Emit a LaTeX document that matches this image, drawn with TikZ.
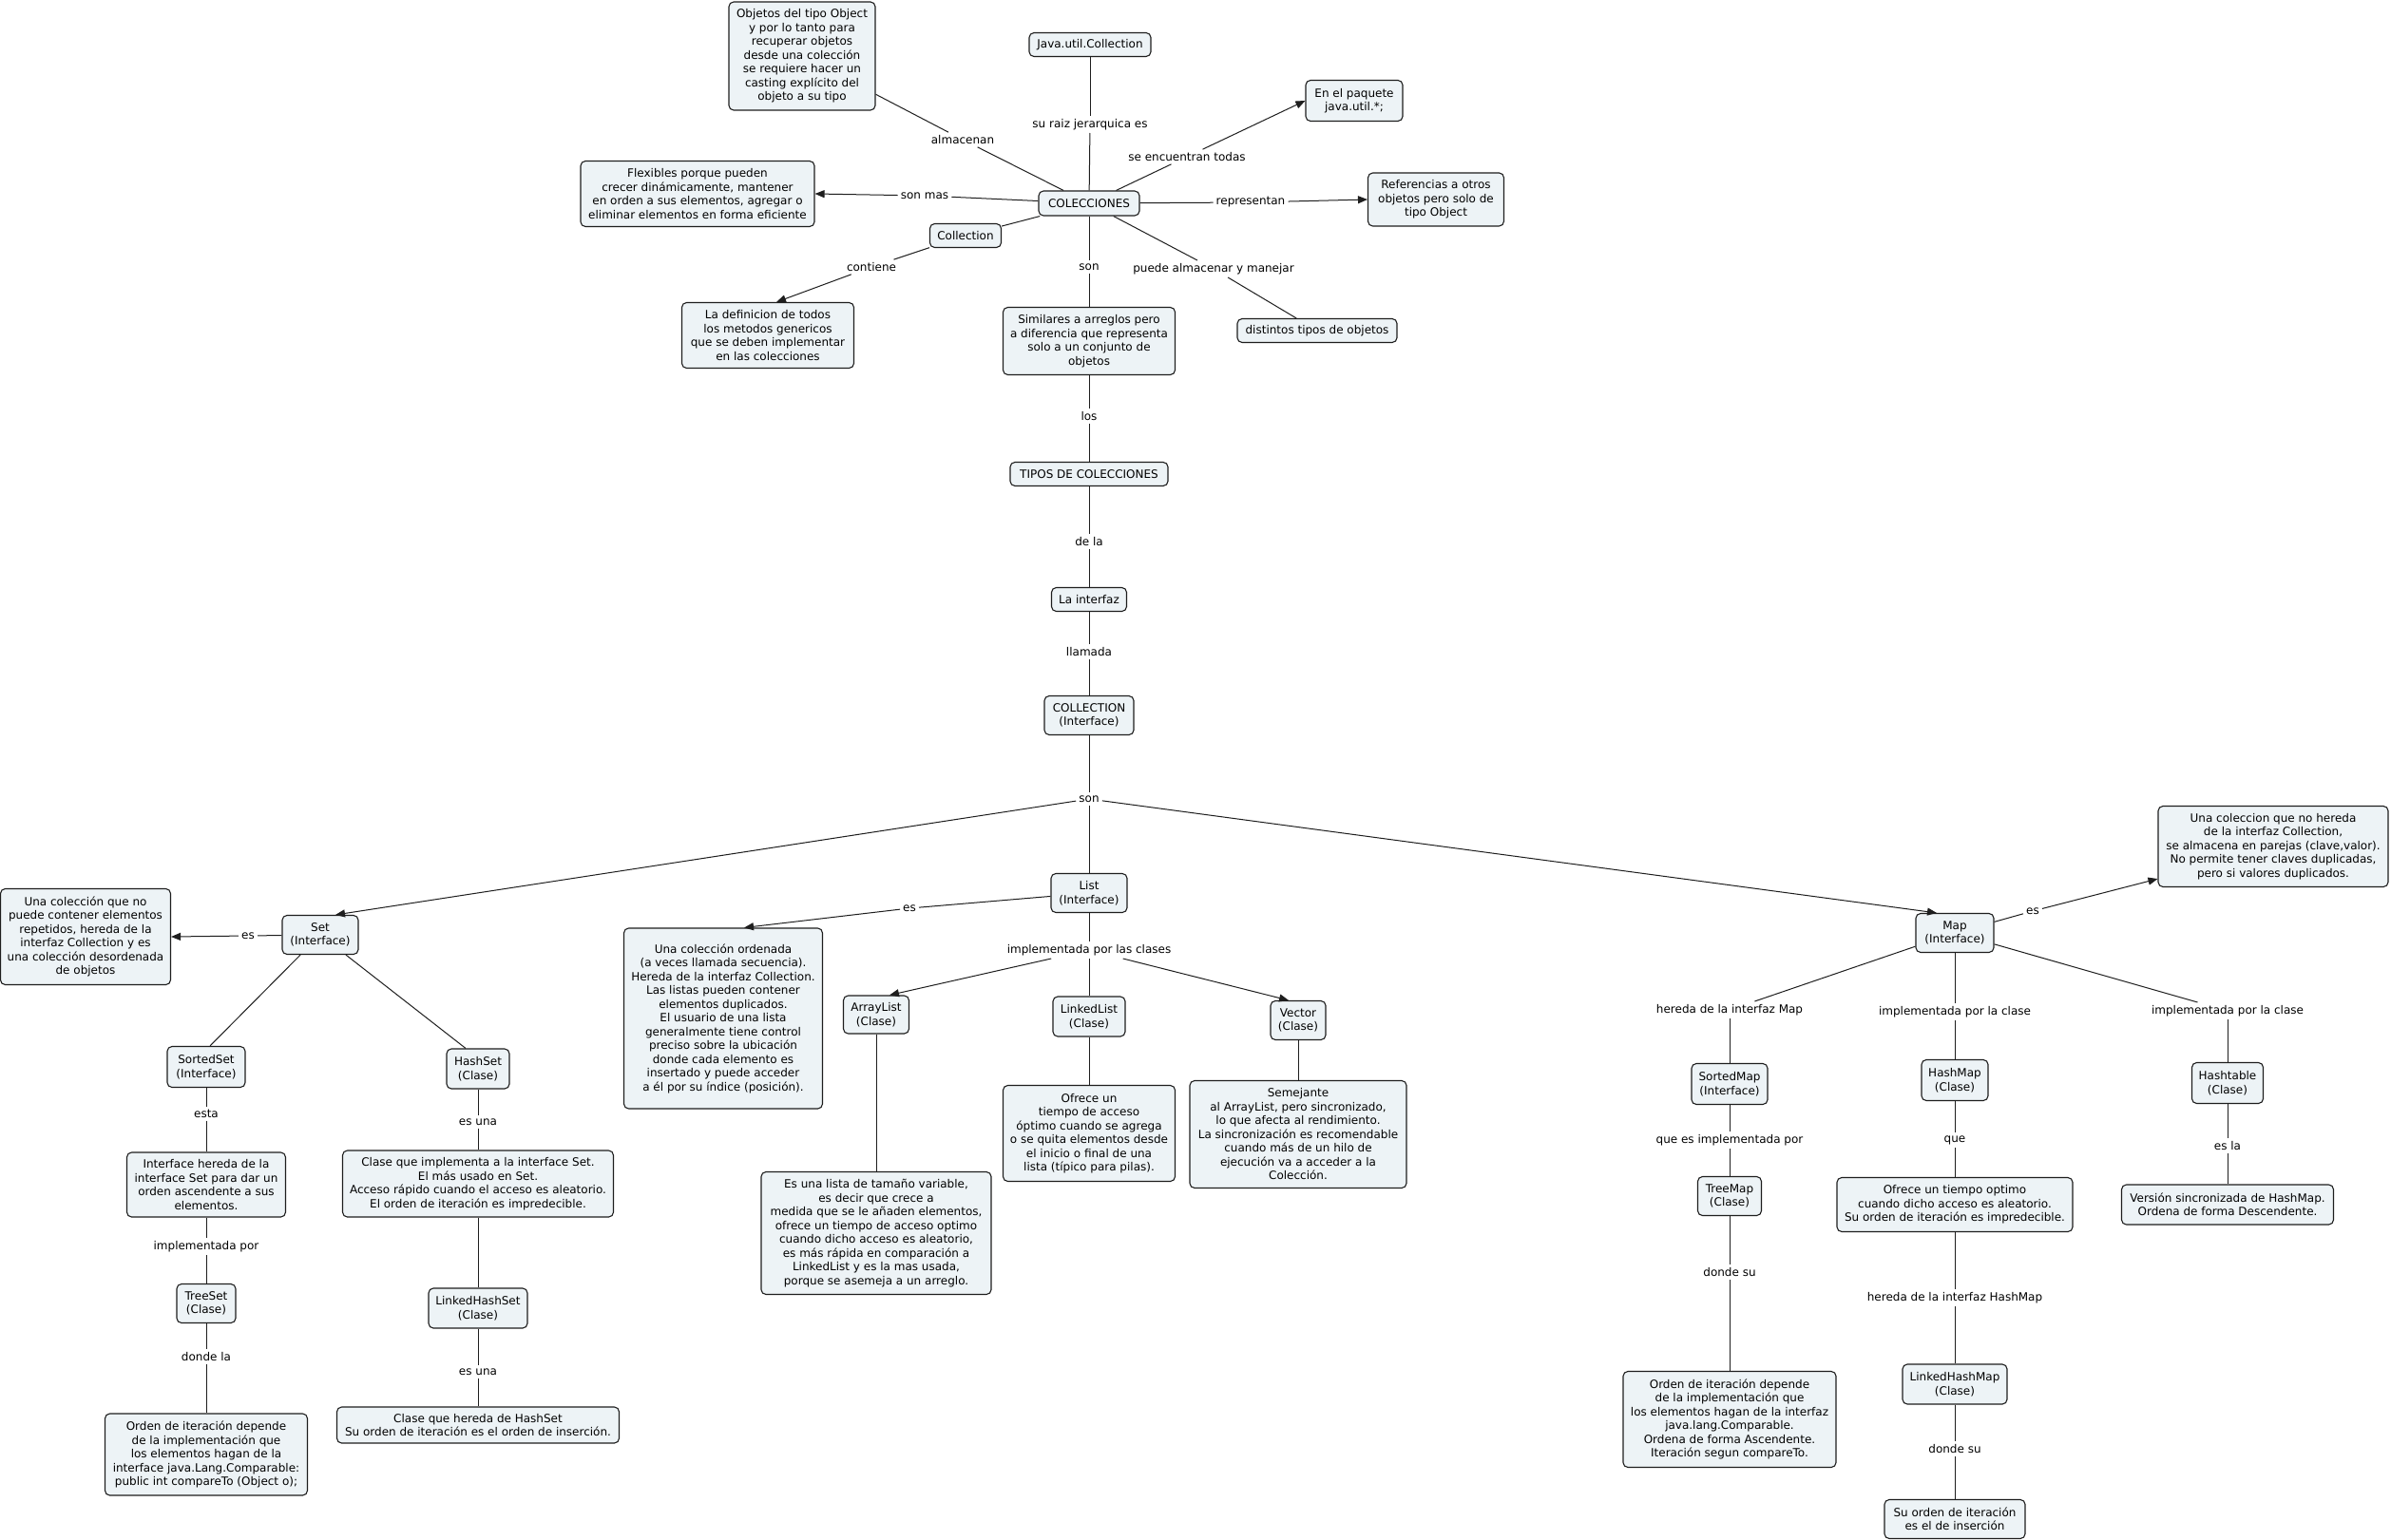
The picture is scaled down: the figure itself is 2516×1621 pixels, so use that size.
\documentclass[tikz,border=0pt]{standalone}
\usepackage{fontspec}
\setmainfont{DejaVu Sans}
\usepackage{tikz}
\usetikzlibrary{arrows.meta}
\definecolor{conceptfill}{RGB}{237,243,246}
\definecolor{conceptline}{RGB}{30,30,30}

\begin{document}
\begin{tikzpicture}[
x=1pt, y=-1pt,
font=\fontsize{12}{14.5}\selectfont,
concept/.style={draw=conceptline, line width=1.1pt, fill=conceptfill, rounded corners=5pt, inner sep=0pt, align=center},
link/.style={fill=white, inner sep=3pt, align=center},
plain/.style={draw=conceptline, line width=1pt},
arrow/.style={plain, -{Triangle[length=10pt, width=8pt]}}
]
\fill[white] (0,0) rectangle (2516,1621);
\useasboundingbox (0,0) rectangle (2516,1621);

% concepts around COLECCIONES
\node[concept, minimum width=106pt, minimum height=26pt] (colecciones) at (1146,214) {COLECCIONES};
\node[concept, minimum width=154pt, minimum height=114pt] (objetos) at (844,59) {Objetos del tipo Object\\y por lo tanto para\\recuperar objetos\\desde una colección\\se requiere hacer un\\casting explícito del\\objeto a su tipo};
\node[concept, minimum width=128pt, minimum height=25pt] (javautil) at (1147,47) {Java.util.Collection};
\node[concept, minimum width=102pt, minimum height=43pt] (paquete) at (1425,106) {En el paquete\\java.util.*;};
\node[concept, minimum width=246pt, minimum height=69pt] (flexibles) at (734,204) {Flexibles porque pueden\\crecer dinámicamente, mantener\\en orden a sus elementos, agregar o\\eliminar elementos en forma eficiente};
\node[concept, minimum width=143pt, minimum height=56pt] (referencias) at (1511,210) {Referencias a otros\\objetos pero solo de\\tipo Object};
\node[concept, minimum width=75pt, minimum height=25pt] (collection) at (1016,248) {Collection};
\node[concept, minimum width=181pt, minimum height=69pt] (definicion) at (808,353) {La definicion de todos\\los metodos genericos\\que se deben implementar\\en las colecciones};
\node[concept, minimum width=181pt, minimum height=71pt] (similares) at (1146,359) {Similares a arreglos pero\\a diferencia que representa\\solo a un conjunto de\\objetos};
\node[concept, minimum width=168pt, minimum height=25pt] (distintos) at (1386,348) {distintos tipos de objetos};

% central column
\node[concept, minimum width=166pt, minimum height=25pt] (tipos) at (1146,499) {TIPOS DE COLECCIONES};
\node[concept, minimum width=79pt, minimum height=25pt] (interfaz) at (1146,631) {La interfaz};
\node[concept, minimum width=94pt, minimum height=41pt] (collint) at (1146,753) {COLLECTION\\(Interface)};

% Set branch
\node[concept, minimum width=80pt, minimum height=41pt] (set) at (337,984) {Set\\(Interface)};
\node[concept, minimum width=179pt, minimum height=101pt] (setdesc) at (90,986) {Una colección que no\\puede contener elementos\\repetidos, hereda de la\\interfaz Collection y es\\una colección desordenada\\de objetos};
\node[concept, minimum width=82pt, minimum height=43pt] (sortedset) at (217,1123) {SortedSet\\(Interface)};
\node[concept, minimum width=66pt, minimum height=42pt] (hashset) at (503,1125) {HashSet\\(Clase)};
\node[concept, minimum width=167pt, minimum height=68pt] (sorteddesc) at (217,1247) {Interface hereda de la\\interface Set para dar un\\orden ascendente a sus\\elementos.};
\node[concept, minimum width=285pt, minimum height=70pt] (hashdesc) at (503,1246) {Clase que implementa a la interface Set.\\El más usado en Set.\\Acceso rápido cuando el acceso es aleatorio.\\El orden de iteración es impredecible.};
\node[concept, minimum width=62pt, minimum height=41pt] (treeset) at (217,1372) {TreeSet\\(Clase)};
\node[concept, minimum width=104pt, minimum height=42pt] (lhashset) at (503,1377) {LinkedHashSet\\(Clase)};
\node[concept, minimum width=213pt, minimum height=86pt] (treesetdesc) at (217,1531) {Orden de iteración depende\\de la implementación que\\los elementos hagan de la\\interface java.Lang.Comparable:\\public int compareTo (Object o);};
\node[concept, minimum width=297pt, minimum height=38pt] (lhashsetdesc) at (503,1500) {Clase que hereda de HashSet\\Su orden de iteración es el orden de inserción.};

% List branch
\node[concept, minimum width=80pt, minimum height=41pt] (list) at (1146,940) {List\\(Interface)};
\node[concept, minimum width=209pt, minimum height=190pt] (listdesc) at (761,1072) {Una colección ordenada\\(a veces llamada secuencia).\\Hereda de la interfaz Collection.\\Las listas pueden contener\\elementos duplicados.\\El usuario de una lista\\generalmente tiene control\\preciso sobre la ubicación\\donde cada elemento es\\insertado y puede acceder\\a él por su índice (posición).};
\node[concept, minimum width=69pt, minimum height=40pt] (arraylist) at (922,1068) {ArrayList\\(Clase)};
\node[concept, minimum width=76pt, minimum height=42pt] (linkedlist) at (1146,1070) {LinkedList\\(Clase)};
\node[concept, minimum width=58pt, minimum height=41pt] (vector) at (1366,1074) {Vector\\(Clase)};
\node[concept, minimum width=242pt, minimum height=129pt] (arraydesc) at (922,1298) {Es una lista de tamaño variable,\\es decir que crece a\\medida que se le añaden elementos,\\ofrece un tiempo de acceso optimo\\cuando dicho acceso es aleatorio,\\es más rápida en comparación a\\LinkedList y es la mas usada,\\porque se asemeja a un arreglo.};
\node[concept, minimum width=181pt, minimum height=101pt] (linkeddesc) at (1146,1193) {Ofrece un\\tiempo de acceso\\óptimo cuando se agrega\\o se quita elementos desde\\el inicio o final de una\\lista (típico para pilas).};
\node[concept, minimum width=228pt, minimum height=113pt] (vectordesc) at (1366,1194) {Semejante\\al ArrayList, pero sincronizado,\\lo que afecta al rendimiento.\\La sincronización es recomendable\\cuando más de un hilo de\\ejecución va a acceder a la\\Colección.};

% Map branch
\node[concept, minimum width=82pt, minimum height=41pt] (map) at (2057,982) {Map\\(Interface)};
\node[concept, minimum width=242pt, minimum height=85pt] (mapdesc) at (2392,891) {Una coleccion que no hereda\\de la interfaz Collection,\\se almacena en parejas (clave,valor).\\No permite tener claves duplicadas,\\pero si valores duplicados.};
\node[concept, minimum width=80pt, minimum height=43pt] (sortedmap) at (1820,1141) {SortedMap\\(Interface)};
\node[concept, minimum width=70pt, minimum height=43pt] (hashmap) at (2057,1137) {HashMap\\(Clase)};
\node[concept, minimum width=75pt, minimum height=43pt] (hashtable) at (2344,1140) {Hashtable\\(Clase)};
\node[concept, minimum width=67pt, minimum height=41pt] (treemap) at (1820,1259) {TreeMap\\(Clase)};
\node[concept, minimum width=248pt, minimum height=57pt] (hashmapdesc) at (2057,1268) {Ofrece un tiempo optimo\\cuando dicho acceso es aleatorio.\\Su orden de iteración es impredecible.};
\node[concept, minimum width=223pt, minimum height=42pt] (hashtabledesc) at (2344,1268) {Versión sincronizada de HashMap.\\Ordena de forma Descendente.};
\node[concept, minimum width=224pt, minimum height=101pt] (treemapdesc) at (1820,1494) {Orden de iteración depende\\de la implementación que\\los elementos hagan de la interfaz\\java.lang.Comparable.\\Ordena de forma Ascendente.\\Iteración segun compareTo.};
\node[concept, minimum width=110pt, minimum height=42pt] (lhashmap) at (2057,1457) {LinkedHashMap\\(Clase)};
\node[concept, minimum width=148pt, minimum height=41pt] (lhashmapdesc) at (2057,1599) {Su orden de iteración\\es el de inserción};

% linking phrases
\node[link] (almacenan) at (1013,147) {almacenan};
\node[link] (raiz) at (1147,131) {su raiz jerarquica es};
\node[link] (encuentran) at (1249,165) {se encuentran todas};
\node[link] (sonmas) at (973,206) {son mas};
\node[link] (representan) at (1316,213) {representan};
\node[link] (contiene) at (917,281) {contiene};
\node[link] (sonA) at (1146,281) {son};
\node[link] (puede) at (1277,283) {puede almacenar y manejar};
\node[link] (los) at (1146,438) {los};
\node[link] (dela) at (1146,570) {de la};
\node[link] (llamada) at (1146,686) {llamada};
\node[link] (sonB) at (1146,841) {son};
\node[link] (esset) at (261,985) {es};
\node[link] (esta) at (217,1172) {esta};
\node[link] (implpor) at (217,1312) {implementada por};
\node[link] (dondela) at (217,1428) {donde la};
\node[link] (esunaA) at (503,1181) {es una};
\node[link] (esunaB) at (503,1444) {es una};
\node[link] (eslist) at (957,956) {es};
\node[link] (implclases) at (1146,1000) {implementada por las clases};
\node[link] (esmap) at (2139,959) {es};
\node[link] (heredamap) at (1820,1063) {hereda de la interfaz Map};
\node[link] (implclaseA) at (2057,1065) {implementada por la clase};
\node[link] (implclaseB) at (2344,1064) {implementada por la clase};
\node[link] (queespor) at (1820,1200) {que es implementada por};
\node[link] (que) at (2057,1200) {que};
\node[link] (esla) at (2344,1206) {es la};
\node[link] (dondesuA) at (1820,1339) {donde su};
\node[link] (heredahm) at (2057,1366) {hereda de la interfaz HashMap};
\node[link] (dondesuB) at (2057,1525) {donde su};

% connectors
\draw[plain] (colecciones) -- (almacenan);
\draw[plain] (almacenan) -- (objetos);
\draw[plain] (javautil) -- (raiz);
\draw[plain] (raiz) -- (colecciones);
\draw[plain] (colecciones) -- (encuentran);
\draw[arrow] (encuentran) -- (paquete.west);
\draw[plain] (colecciones) -- (sonmas);
\draw[arrow] (sonmas) -- (flexibles.east);
\draw[plain] (colecciones) -- (representan);
\draw[arrow] (representan) -- (referencias.west);
\draw[plain] (colecciones) -- (collection);
\draw[plain] (collection) -- (contiene);
\draw[arrow] (contiene) -- ([xshift=9pt]definicion.north);
\draw[plain] (colecciones) -- (sonA);
\draw[plain] (sonA) -- (similares);
\draw[plain] (colecciones) -- (puede);
\draw[plain] (puede) -- (distintos);
\draw[plain] (similares) -- (los);
\draw[plain] (los) -- (tipos);
\draw[plain] (tipos) -- (dela);
\draw[plain] (dela) -- (interfaz);
\draw[plain] (interfaz) -- (llamada);
\draw[plain] (llamada) -- (collint);
\draw[plain] (collint) -- (sonB);
\draw[arrow] (sonB) -- ([xshift=16pt]set.north);
\draw[plain] (sonB) -- (list);
\draw[arrow] (sonB) -- ([xshift=-19pt]map.north);

\draw[plain] (set) -- (esset);
\draw[arrow] (esset) -- (setdesc.east);
\draw[plain] (set) -- ([xshift=4pt]sortedset.north);
\draw[plain] (set) -- ([xshift=-13pt]hashset.north);
\draw[plain] (sortedset) -- (esta);
\draw[plain] (esta) -- (sorteddesc);
\draw[plain] (sorteddesc) -- (implpor);
\draw[plain] (implpor) -- (treeset);
\draw[plain] (treeset) -- (dondela);
\draw[plain] (dondela) -- (treesetdesc);
\draw[plain] (hashset) -- (esunaA);
\draw[plain] (esunaA) -- (hashdesc);
\draw[plain] (hashdesc) -- (lhashset);
\draw[plain] (lhashset) -- (esunaB);
\draw[plain] (esunaB) -- (lhashsetdesc);

\draw[plain] (list) -- (eslist);
\draw[arrow] (eslist) -- ([xshift=22pt]listdesc.north);
\draw[plain] (list) -- (implclases);
\draw[arrow] (implclases) -- ([xshift=14pt]arraylist.north);
\draw[plain] (implclases) -- (linkedlist);
\draw[arrow] (implclases) -- ([xshift=-10pt]vector.north);
\draw[plain] (arraylist) -- (arraydesc);
\draw[plain] (linkedlist) -- (linkeddesc);
\draw[plain] (vector) -- (vectordesc);

\draw[plain] (map) -- (esmap);
\draw[arrow] (esmap) -- ([yshift=9pt]mapdesc.south west);
\draw[plain] (map) -- (heredamap);
\draw[plain] (heredamap) -- (sortedmap);
\draw[plain] (map) -- (implclaseA);
\draw[plain] (implclaseA) -- (hashmap);
\draw[plain] (map) -- (implclaseB);
\draw[plain] (implclaseB) -- (hashtable);
\draw[plain] (sortedmap) -- (queespor);
\draw[plain] (queespor) -- (treemap);
\draw[plain] (treemap) -- (dondesuA);
\draw[plain] (dondesuA) -- (treemapdesc);
\draw[plain] (hashmap) -- (que);
\draw[plain] (que) -- (hashmapdesc);
\draw[plain] (hashmapdesc) -- (heredahm);
\draw[plain] (heredahm) -- (lhashmap);
\draw[plain] (lhashmap) -- (dondesuB);
\draw[plain] (dondesuB) -- (lhashmapdesc);
\draw[plain] (hashtable) -- (esla);
\draw[plain] (esla) -- (hashtabledesc);
\end{tikzpicture}
\end{document}
